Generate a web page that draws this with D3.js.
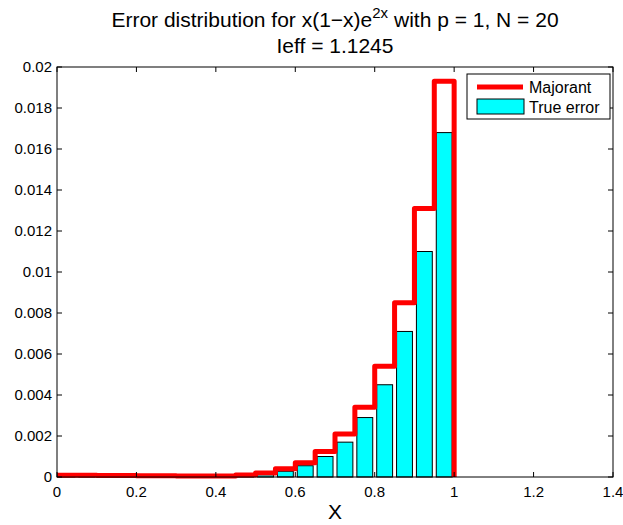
<!DOCTYPE html>
<html>
<head>
<meta charset="utf-8">
<script src="https://cdn.jsdelivr.net/npm/d3@7"></script>
<style>
  body { margin: 0; background: #fff; }
  text { font-family: "Liberation Sans", Arial, sans-serif; }
</style>
</head>
<body>
<div id="container"></div>
<script>
/* DATA */
const binEdges = d3.range(21).map(i => i * 0.05)
const majorant = [0.00008, 0.00008, 0.00007, 0.00007, 0.00006, 0.00006, 0.00005, 0.00005, 0.00005, 0.0001,
  0.0002, 0.0004, 0.0007, 0.00125, 0.0021, 0.0034, 0.0054, 0.0085, 0.0131, 0.0193]
const trueError = [0.00001, 0.00001, 0.00001, 0.00001, 0.00001, 0.00001, 0.00001, 0.00001, 0.00002, 0.00005,
  0.00012, 0.00028, 0.00055, 0.001, 0.0017, 0.0029, 0.0045, 0.0071, 0.011, 0.0168]
const xTicks = [0, 0.2, 0.4, 0.6, 0.8, 1, 1.2, 1.4]
const yTicks = d3.range(0, 0.0201, 0.002)

/* CONSTANTS */
const width = 623, height = 525
const margin = { top: 67, bottom: 48, left: 57, right: 10 }

const svg = d3.select("#container").append("svg")
  .attr("width", width)
  .attr("height", height)

const xScale = d3.scaleLinear().domain([0, 1.4]).range([margin.left, width - margin.right])
const yScale = d3.scaleLinear().domain([0, 0.02]).range([height - margin.bottom, margin.top])

// TRUE ERROR BARS
const bars = trueError.map((v, i) => ({ x: (binEdges[i] + binEdges[i + 1]) / 2, v }))
svg.selectAll(".bar")
  .data(bars)
  .join("rect")
  .attr("class", "bar")
  .attr("x", d => xScale(d.x - 0.02))
  .attr("width", xScale(0.04) - xScale(0))
  .attr("y", d => yScale(d.v))
  .attr("height", d => yScale(0) - yScale(d.v))
  .attr("fill", "#00ffff")
  .attr("stroke", "#000")
  .attr("stroke-width", 1)

// MAJORANT STAIRS
const stairPts = []
majorant.forEach((v, i) => {
  stairPts.push([binEdges[i], v])
  stairPts.push([binEdges[i + 1], v])
})
stairPts.push([1, 0])
const drawLine = d3.line()
  .x(d => xScale(d[0]))
  .y(d => yScale(d[1]))
svg.append("path")
  .datum(stairPts)
  .attr("d", drawLine)
  .attr("fill", "none")
  .attr("stroke", "#ff0000")
  .attr("stroke-width", 5)
  .attr("stroke-linejoin", "round")

// AXES (box with inward ticks)
const plot = svg.append("g")
plot.append("rect")
  .attr("x", margin.left).attr("y", margin.top)
  .attr("width", width - margin.right - margin.left)
  .attr("height", height - margin.bottom - margin.top)
  .attr("fill", "none").attr("stroke", "#000").attr("stroke-width", 1)

const x0 = margin.left, x1 = width - margin.right
const y0 = height - margin.bottom, y1 = margin.top

xTicks.forEach(t => {
  const x = xScale(t)
  plot.append("line").attr("x1", x).attr("x2", x).attr("y1", y0).attr("y2", y0 - 5).attr("stroke", "#000")
  plot.append("line").attr("x1", x).attr("x2", x).attr("y1", y1).attr("y2", y1 + 5).attr("stroke", "#000")
  plot.append("text").attr("x", x).attr("y", y0 + 20)
    .attr("text-anchor", "middle").attr("font-size", 15).text(+t.toFixed(1))
})
yTicks.forEach(t => {
  const y = yScale(t)
  plot.append("line").attr("x1", x0).attr("x2", x0 + 5).attr("y1", y).attr("y2", y).attr("stroke", "#000")
  plot.append("line").attr("x1", x1).attr("x2", x1 - 5).attr("y1", y).attr("y2", y).attr("stroke", "#000")
  plot.append("text").attr("x", x0 - 5).attr("y", y + 5)
    .attr("text-anchor", "end").attr("font-size", 15).text(+t.toFixed(3))
})

// TITLE
const cx = (x0 + x1) / 2
const title = svg.append("text").attr("x", cx).attr("y", 27)
  .attr("text-anchor", "middle").attr("font-size", 21)
title.append("tspan").text("Error distribution for x(1\u2212x)e")
title.append("tspan").attr("dy", -9).attr("font-size", 15).text("2x")
title.append("tspan").attr("dy", 9).text(" with p = 1, N = 20")
svg.append("text").attr("x", cx).attr("y", 53)
  .attr("text-anchor", "middle").attr("font-size", 21).text("Ieff = 1.1245")

// X LABEL
svg.append("text").attr("x", cx).attr("y", 519)
  .attr("text-anchor", "middle").attr("font-size", 21).text("X")

// LEGEND
const lg = svg.append("g").attr("transform", "translate(467,74)")
lg.append("rect").attr("width", 143).attr("height", 45)
  .attr("fill", "#fff").attr("stroke", "#000")
lg.append("line").attr("x1", 10).attr("x2", 56).attr("y1", 13).attr("y2", 13)
  .attr("stroke", "#ff0000").attr("stroke-width", 5)
lg.append("text").attr("x", 62).attr("y", 19).attr("font-size", 16).text("Majorant")
lg.append("rect").attr("x", 10).attr("y", 25).attr("width", 47).attr("height", 15)
  .attr("fill", "#00ffff").attr("stroke", "#000")
lg.append("text").attr("x", 62).attr("y", 39).attr("font-size", 16).text("True error")
</script>
</body>
</html>
